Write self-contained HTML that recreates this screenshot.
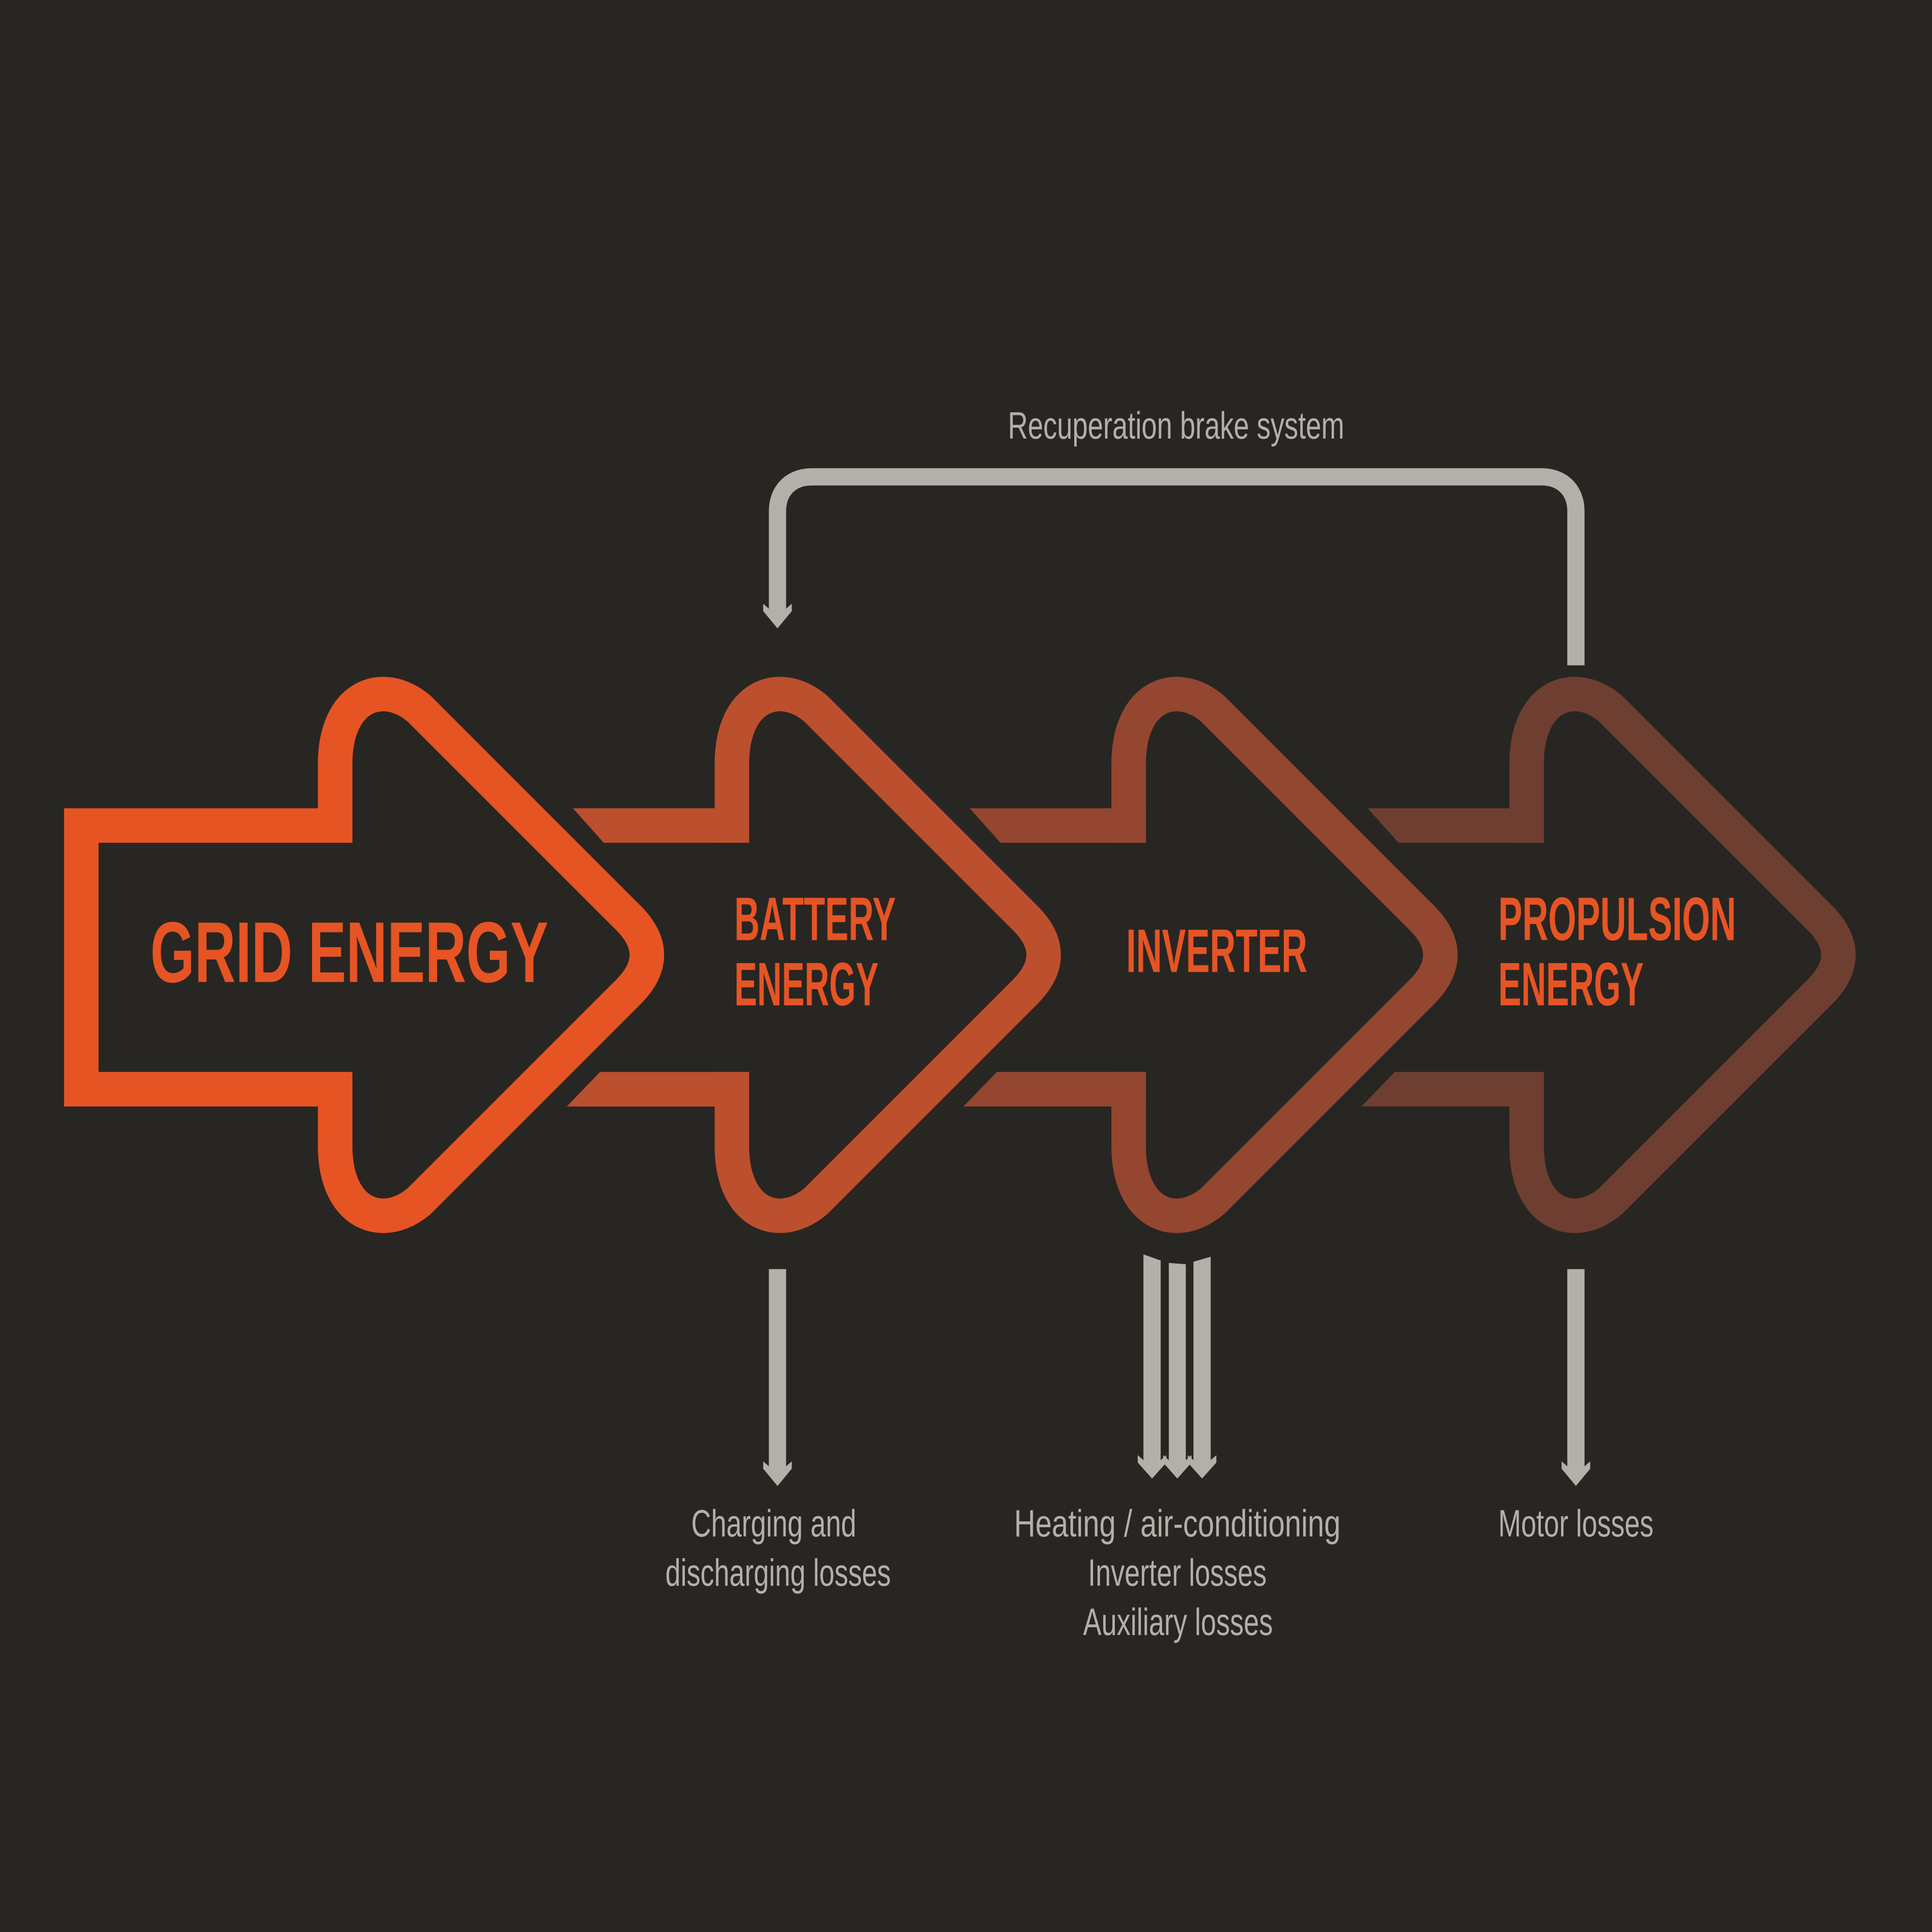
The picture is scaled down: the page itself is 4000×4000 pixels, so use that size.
<!DOCTYPE html>
<html><head><meta charset="utf-8"><style>
html,body{margin:0;padding:0;background:#282622;}
svg{display:block;}
.t{font-family:"Liberation Sans Narrow","Liberation Sans",sans-serif;font-weight:bold;fill:#E65424;}
.g{font-family:"Liberation Sans Narrow","Liberation Sans",sans-serif;fill:#B2B0A9;}
</style></head><body>
<svg width="4000" height="4000" viewBox="0 0 1568 1568" xmlns="http://www.w3.org/2000/svg">
<rect width="1568" height="1568" fill="#282622"/>

<path d="M272,670 H66 V884 H272 V930 C272,985 310,1000 340,975 L510,805 C530,785 530,765 510,745 L340,575 C310,550 272,565 272,620 Z" fill="none" stroke="#E65424" stroke-width="28" stroke-miterlimit="10"/>

<g transform="translate(322,0)">
<polygon points="143,656 286,656 286,684 168,684" fill="#BC4F2E"/>
<polygon points="165,870 286,870 286,898 138,898" fill="#BC4F2E"/>
<path d="M272,684 V620 C272,565 310,550 340,575 L510,745 C530,765 530,785 510,805 L340,975 C310,1000 272,985 272,930 V870" fill="none" stroke="#BC4F2E" stroke-width="28"/>
</g>
<g transform="translate(644,0)">
<polygon points="143,656 286,656 286,684 168,684" fill="#944631"/>
<polygon points="165,870 286,870 286,898 138,898" fill="#944631"/>
<path d="M272,684 V620 C272,565 310,550 340,575 L510,745 C530,765 530,785 510,805 L340,975 C310,1000 272,985 272,930 V870" fill="none" stroke="#944631" stroke-width="28"/>
</g>
<g transform="translate(967,0)">
<polygon points="143,656 286,656 286,684 168,684" fill="#6E3E31"/>
<polygon points="165,870 286,870 286,898 138,898" fill="#6E3E31"/>
<path d="M272,684 V620 C272,565 310,550 340,575 L510,745 C530,765 530,785 510,805 L340,975 C310,1000 272,985 272,930 V870" fill="none" stroke="#6E3E31" stroke-width="28"/>
</g>

<text class="t" x="122" y="797" font-size="70" textLength="323" lengthAdjust="spacingAndGlyphs">GRID ENERGY</text>
<text class="t" x="596" y="763" font-size="50" textLength="131" lengthAdjust="spacingAndGlyphs">BATTERY</text>
<text class="t" x="596" y="816" font-size="50" textLength="117" lengthAdjust="spacingAndGlyphs">ENERGY</text>
<text class="t" x="914" y="789" font-size="50" textLength="147" lengthAdjust="spacingAndGlyphs">INVERTER</text>
<text class="t" x="1216" y="763" font-size="50" textLength="193" lengthAdjust="spacingAndGlyphs">PROPULSION</text>
<text class="t" x="1216" y="816" font-size="50" textLength="118" lengthAdjust="spacingAndGlyphs">ENERGY</text>

<path d="M1279,540 V415 C1279,398 1268,387 1251,387 H659 C642,387 631,398 631,415 V496" fill="none" stroke="#B2B0A9" stroke-width="14"/>
<polygon fill="#B2B0A9" points="624,494 638,494 642.6,490 642.6,496 631,510 619.4,496 619.4,490 624,494"/>
<text class="g" x="818" y="356" font-size="31" textLength="273" lengthAdjust="spacingAndGlyphs">Recuperation brake system</text>

<g fill="#B2B0A9">
<rect x="624" y="1030" width="14" height="162"/>
<polygon points="624,1190 638,1190 642.6,1186 642.6,1192 631,1206 619.4,1192 619.4,1186 624,1190"/>
<rect x="1272" y="1030" width="14" height="162"/>
<polygon points="1272,1190 1286,1190 1290.6,1186 1290.6,1192 1279,1206 1267.4,1192 1267.4,1186 1272,1190"/>
<polygon points="928,1018 942,1023 942,1185 928,1185"/>
<polygon points="948.6,1025 962.4,1026 962.4,1185 948.6,1185"/>
<polygon points="968.6,1024 982.6,1020 982.6,1185 968.6,1185"/>
<polygon points="928,1185 942,1185 946.6,1181 946.6,1187 935,1200 923.4,1187 923.4,1181 928,1185"/>
<polygon points="948.6,1185 962.4,1185 967,1181 967,1187 955.5,1200 944,1187 944,1181 948.6,1185"/>
<polygon points="968.6,1185 982.6,1185 987.2,1181 987.2,1187 975.6,1200 964,1187 964,1181 968.6,1185"/>
</g>

<text class="g" x="561" y="1247" font-size="31" textLength="134" lengthAdjust="spacingAndGlyphs">Charging and</text>
<text class="g" x="540" y="1287" font-size="31" textLength="183" lengthAdjust="spacingAndGlyphs">discharging losses</text>
<text class="g" x="823" y="1247" font-size="31" textLength="265" lengthAdjust="spacingAndGlyphs">Heating / air-conditioning</text>
<text class="g" x="883" y="1287" font-size="31" textLength="145" lengthAdjust="spacingAndGlyphs">Inverter losses</text>
<text class="g" x="879" y="1327" font-size="31" textLength="154" lengthAdjust="spacingAndGlyphs">Auxiliary losses</text>
<text class="g" x="1216" y="1247" font-size="31" textLength="126" lengthAdjust="spacingAndGlyphs">Motor losses</text>
</svg>
</body></html>
